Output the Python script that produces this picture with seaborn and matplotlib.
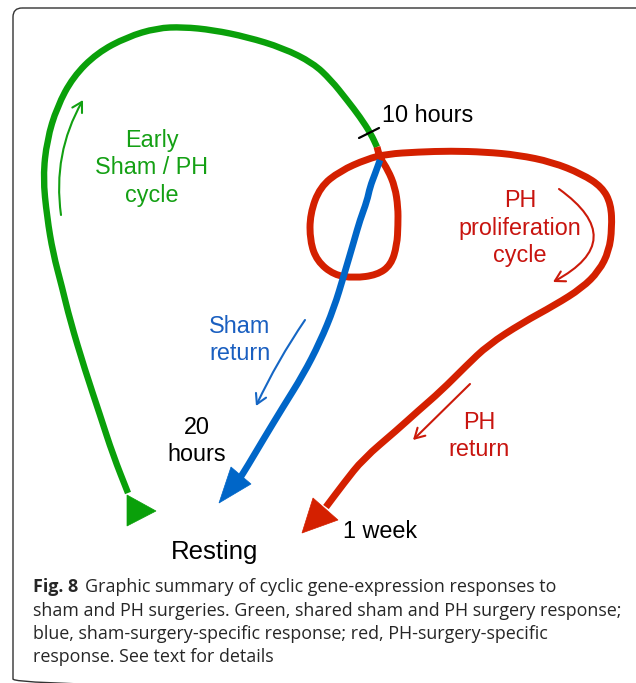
import numpy as np
import pandas as pd
import seaborn as sns
import matplotlib.pyplot as plt
from matplotlib.patches import FancyBboxPatch, FancyArrowPatch, Polygon, PathPatch
from matplotlib.path import Path

# path points (pixel coordinates, y grows downward)
green_x = [128, 113, 100, 85, 70, 62, 53, 47, 43, 47, 57, 73, 97, 127, 157, 183,
           213, 247, 283, 313, 331, 347, 360, 371, 377]
green_y = [493, 455, 415, 370, 320, 287, 253, 217, 177, 140, 107, 77, 53, 37, 28, 27,
           30, 37, 48, 63, 80, 100, 117, 134, 147]
green_head = [(127, 495), (127, 526), (156, 511)]

red_x = [377, 380, 388, 395, 398, 398, 397, 391, 377, 354, 334, 317, 310, 310, 320,
         340, 367, 387, 418, 451, 485, 518, 552, 582, 602, 611, 612, 609, 599, 582,
         555, 522, 488, 466, 441, 418, 397, 363, 344, 326]
red_y = [147, 158, 170, 187, 207, 225, 245, 265, 275, 278, 275, 261, 241, 214, 187,
         171, 159, 154, 152, 151, 152, 155, 162, 174, 187, 204, 228, 251, 271, 288,
         305, 323, 345, 366, 391, 411, 430, 459, 483, 507]
red_head = [(313, 498), (338, 520), (302, 533)]

blue_x = [380, 375, 370, 367, 360, 354, 344, 334, 320, 303, 283, 263, 247, 240]
blue_y = [160, 174, 187, 201, 220, 241, 275, 308, 342, 375, 407, 440, 467, 478]
blue_head = [(231, 467), (251, 484), (219, 503)]

tick_x = [359, 379]
tick_y = [138, 128]

# small direction arrows: start, end, curvature
small_arrows = [
    ((61, 215), (83, 100), -0.17, "#12a012"),
    ((559, 189), (553, 282), -0.8, "#cc1a0a"),
    ((305, 320), (256, 406), 0.04, "#1566c4"),
    ((470, 384), (413, 440), 0.0, "#cc1a0a"),
]

labels = [
    ("Early\nSham / PH\ncycle", 152, 168, "#14a014", "center", 1.27),
    ("PH\nproliferation\ncycle", 520, 228, "#c8140f", "center", 1.27),
    ("Sham\nreturn", 240, 340, "#1a5fc0", "center", 1.18),
    ("PH\nreturn", 479, 436, "#c8140f", "center", 1.18),
    ("20\nhours", 197, 441, "black", "center", 1.25),
    ("1 week", 380, 532, "black", "center", 1.0),
    ("10 hours", 382, 116, "black", "left", 1.0),
]

caption_lines = [
    "Graphic summary of cyclic gene-expression responses to",
    "sham and PH surgeries. Green, shared sham and PH surgery response;",
    "blue, sham-surgery-specific response; red, PH-surgery-specific",
    "response. See text for details",
]
caption_y = [587, 611, 634, 657]

sns.set_theme(style="white")
plt.rcParams['font.family'] = ['Liberation Sans', 'DejaVu Sans']

fig = plt.figure(figsize=(6.36, 6.83), dpi=100)
ax = fig.add_axes([0, 0, 1, 1])

GREEN, RED, BLUE = "#0aa00a", "#d42000", "#0066c8"


def smooth_path(xs, ys):
    # quadratic B-spline style path: the read points act as control points
    p = list(zip(xs, ys))
    verts = [p[0], ((p[0][0] + p[1][0]) / 2, (p[0][1] + p[1][1]) / 2)]
    codes = [Path.MOVETO, Path.LINETO]
    for i in range(1, len(p) - 1):
        m = ((p[i][0] + p[i + 1][0]) / 2, (p[i][1] + p[i + 1][1]) / 2)
        verts += [p[i], m]
        codes += [Path.CURVE3, Path.CURVE3]
    verts.append(p[-1])
    codes.append(Path.LINETO)
    return Path(verts, codes)


for xs, ys, c, lw in [(green_x, green_y, GREEN, 4.6), (red_x, red_y, RED, 5.0),
                      (blue_x, blue_y, BLUE, 4.8)]:
    ax.add_patch(PathPatch(smooth_path(xs, ys), facecolor="none", edgecolor=c,
                           lw=lw, joinstyle="round", capstyle="butt"))

for pts, c in [(green_head, GREEN), (red_head, RED), (blue_head, BLUE)]:
    ax.add_patch(Polygon(pts, closed=True, facecolor=c, edgecolor=c, lw=0.5))

# 10 hours tick
sns.lineplot(x=tick_x, y=tick_y, sort=False, estimator=None, ax=ax,
             color="black", lw=1.6)

for a, b, rad, c in small_arrows:
    ax.add_patch(FancyArrowPatch(a, b, connectionstyle=f"arc3,rad={rad}",
                                 arrowstyle="->,head_length=7,head_width=4",
                                 color=c, lw=1.5, shrinkA=0, shrinkB=0))

for txt, x, y, c, ha, ls in labels:
    ax.text(x, y, txt, color=c, fontsize=16.8, ha=ha, va="center",
            multialignment="center", linespacing=ls)
ax.text(215, 552, "Resting", color="black", fontsize=18.5, ha="center", va="center")

# frame
ax.add_patch(FancyBboxPatch((13, 8), 640, 680, boxstyle="round,pad=0,rounding_size=9",
                            facecolor="none", edgecolor="#333333", lw=1.0))

ax.set_xlim(0, 636)
ax.set_ylim(683, 0)
ax.axis("off")

# caption, fitted to the width of the longest line
cap_font = ['Open Sans', 'DejaVu Sans']
r = fig.canvas.get_renderer()
probe = ax.text(33, 611, caption_lines[1], fontsize=12, family=cap_font)
w = probe.get_window_extent(r).width
probe.remove()
cs = 12 * 589 / w
fig8 = ax.text(33, caption_y[0], "Fig. 8", fontsize=cs, family=cap_font,
               weight="bold", va="center")
fx = fig8.get_window_extent(r).x1
ax.text(fx + 7, caption_y[0], caption_lines[0], fontsize=cs, family=cap_font, va="center")
for line, y in zip(caption_lines[1:], caption_y[1:]):
    ax.text(33, y, line, fontsize=cs, family=cap_font, va="center")

fig.savefig("out.png", dpi=100)
